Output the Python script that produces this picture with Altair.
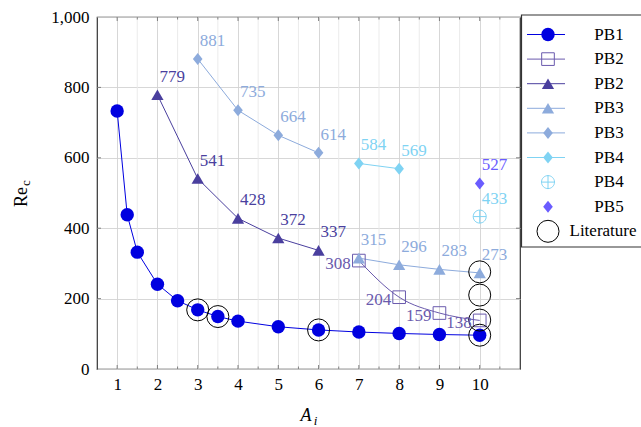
import altair as alt
import pandas as pd

FONT = "'Liberation Serif', 'DejaVu Serif', serif"

# Aspect ratio A_i and critical Reynolds number Re_c for each configuration
pb1_x = [1, 1.25, 1.5, 2, 2.5, 3, 3.5, 4, 5, 6, 7, 8, 9, 10]
pb1_y = [733, 438, 332, 241, 194, 168, 149, 136, 120, 111, 105, 101, 98, 96]

pb2_sq_x = [7, 8, 9, 10]
pb2_sq_y = [308, 204, 159, 138]

pb2_tri_x = [2, 3, 4, 5, 6]
pb2_tri_y = [779, 541, 428, 372, 337]

pb3_tri_x = [7, 8, 9, 10]
pb3_tri_y = [315, 296, 283, 273]

pb3_dia_x = [3, 4, 5, 6]
pb3_dia_y = [881, 735, 664, 614]

pb4_dia_x = [7, 8]
pb4_dia_y = [584, 569]

pb4_plus_x = [10]
pb4_plus_y = [433]

pb5_x = [10]
pb5_y = [527]

lit_x = [3, 3.5, 6, 10, 10, 10, 10]
lit_y = [168, 149, 111, 96, 139, 210, 276]

x_major = list(range(1, 11))
x_minor = [v + 0.5 for v in range(1, 11)]
y_major = [0, 200, 400, 600, 800, 1000]

legend_labels = ["PB1", "PB2", "PB2", "PB3", "PB3", "PB4", "PB4", "PB5", "Literature"]

C_PB1 = "#0000e0"
C_PB2T = "#4a3f9e"
C_PB2S = "#6a5aad"
C_PB3 = "#8dabdc"
C_PB4 = "#7fd3f3"
C_PB5 = "#6a5cff"

DIAMOND = "M0,-1L0.8,0L0,1L-0.8,0Z"
OPLUS = "M-1,0A1,1,0,1,0,1,0A1,1,0,1,0,-1,0ZM-1,0L1,0M0,-1L0,1"

W, H = 423, 352

XS = alt.Scale(domain=[0.5, 11], nice=False, zero=False)
YS = alt.Scale(domain=[0, 1000], nice=False, zero=False)

AX_X = alt.Axis(values=x_major, grid=True, gridColor="#d2d2d2", gridWidth=0.9,
                ticks=False, domain=False, labelFont=FONT, labelFontSize=17,
                labelColor="black", labelPadding=7, title=None)
AX_Y = alt.Axis(values=y_major, grid=True, gridColor="#d2d2d2", gridWidth=0.9,
                ticks=False, domain=False, labelFont=FONT, labelFontSize=17,
                labelColor="black", labelPadding=8, format=",d", title=None)

XENC = alt.X("x:Q", scale=XS, axis=AX_X)
YENC = alt.Y("y:Q", scale=YS, axis=AX_Y)


def base(xs, ys):
    return alt.Chart(pd.DataFrame({"x": xs, "y": ys})).encode(x=XENC, y=YENC)


layers = []

# minor vertical grid at half units
layers.append(
    alt.Chart(pd.DataFrame({"x": x_minor})).mark_rule(color="#e9e9e9", strokeWidth=0.9)
    .encode(x=XENC)
)

# inward ticks on all four sides
tick_color = "#666666"
for vals, length in ((x_major, 4), (x_minor, 2.5)):
    d = pd.DataFrame({"x": vals})
    layers.append(alt.Chart(d).mark_rule(color=tick_color, strokeWidth=0.8)
                  .encode(x=XENC, y=alt.value(H), y2=alt.value(H - length)))
    layers.append(alt.Chart(d).mark_rule(color=tick_color, strokeWidth=0.8)
                  .encode(x=XENC, y=alt.value(0), y2=alt.value(length)))
dy_ticks = pd.DataFrame({"y": y_major[1:-1]})
layers.append(alt.Chart(dy_ticks).mark_rule(color=tick_color, strokeWidth=0.8)
              .encode(y=YENC, x=alt.value(0), x2=alt.value(4)))
layers.append(alt.Chart(dy_ticks).mark_rule(color=tick_color, strokeWidth=0.8)
              .encode(y=YENC, x=alt.value(W), x2=alt.value(W - 4)))

# connecting lines
layers.append(base(pb1_x, pb1_y).mark_line(color=C_PB1, strokeWidth=1))
layers.append(base(pb2_sq_x, pb2_sq_y).mark_line(color=C_PB2S, strokeWidth=1, interpolate="monotone"))
layers.append(base(pb2_tri_x, pb2_tri_y).mark_line(color=C_PB2T, strokeWidth=1))
layers.append(base(pb3_tri_x, pb3_tri_y).mark_line(color=C_PB3, strokeWidth=1))
layers.append(base(pb3_dia_x, pb3_dia_y).mark_line(color=C_PB3, strokeWidth=1))
layers.append(base(pb4_dia_x, pb4_dia_y).mark_line(color=C_PB4, strokeWidth=1))

# markers
layers.append(base(pb1_x, pb1_y).mark_point(shape="circle", size=180, filled=True,
                                            color=C_PB1, opacity=1, strokeWidth=0))
layers.append(base(pb2_sq_x, pb2_sq_y).mark_point(shape="square", size=160, filled=False,
                                                  color=C_PB2S, opacity=1, strokeWidth=1))
layers.append(base(pb2_tri_x, pb2_tri_y).mark_point(shape="triangle-up", size=150, filled=True,
                                                    color=C_PB2T, opacity=1, strokeWidth=0))
layers.append(base(pb3_tri_x, pb3_tri_y).mark_point(shape="triangle-up", size=150, filled=True,
                                                    color=C_PB3, opacity=1, strokeWidth=0))
layers.append(base(pb3_dia_x, pb3_dia_y).mark_point(shape=DIAMOND, size=144, filled=True,
                                                    color=C_PB3, opacity=1, strokeWidth=0))
layers.append(base(pb4_dia_x, pb4_dia_y).mark_point(shape=DIAMOND, size=144, filled=True,
                                                    color=C_PB4, opacity=1, strokeWidth=0))
layers.append(base(pb4_plus_x, pb4_plus_y).mark_point(shape=OPLUS, size=169, filled=False,
                                                      color=C_PB4, opacity=1, strokeWidth=1))
layers.append(base(pb5_x, pb5_y).mark_point(shape=DIAMOND, size=144, filled=True,
                                            color=C_PB5, opacity=1, strokeWidth=0))
layers.append(base(lit_x, lit_y).mark_point(shape="circle", size=484, filled=False,
                                            color="black", opacity=1, strokeWidth=1))


# value labels
def labels(xs, ys, color, side="above"):
    if side == "above":
        mk = dict(align="left", baseline="middle", dx=2, dy=-18)
    else:
        mk = dict(align="right", baseline="middle", dx=-8, dy=3)
    return base(xs, ys).mark_text(font=FONT, fontSize=17, color=color, **mk).encode(
        text=alt.Text("y:Q", format="d"))


layers.append(labels(pb2_sq_x, pb2_sq_y, C_PB2S, side="left"))
layers.append(labels(pb2_tri_x, pb2_tri_y, C_PB2T))
layers.append(labels(pb3_tri_x, pb3_tri_y, C_PB3))
layers.append(labels(pb3_dia_x, pb3_dia_y, C_PB3))
layers.append(labels(pb4_dia_x, pb4_dia_y, C_PB4))
layers.append(labels(pb4_plus_x, pb4_plus_y, C_PB4))
layers.append(labels(pb5_x, pb5_y, C_PB5))

# axis titles: A_i and Re_c with subscripts
one = pd.DataFrame({"k": [0]})
layers.append(alt.Chart(one).mark_text(text="A", font=FONT, fontSize=18, fontStyle="italic",
                                       align="center", baseline="middle")
              .encode(x=alt.value(209), y=alt.value(399)))
layers.append(alt.Chart(one).mark_text(text="i", font=FONT, fontSize=13, fontStyle="italic",
                                       align="center", baseline="middle")
              .encode(x=alt.value(218.5), y=alt.value(404)))
layers.append(alt.Chart(one).mark_text(text="Re", font=FONT, fontSize=18, angle=270,
                                       align="center", baseline="middle")
              .encode(x=alt.value(-75.5), y=alt.value(180)))
layers.append(alt.Chart(one).mark_text(text="c", font=FONT, fontSize=13, angle=270,
                                       align="center", baseline="middle")
              .encode(x=alt.value(-71), y=alt.value(166)))

main = alt.layer(*layers)

# legend panel
leg = pd.DataFrame({
    "row": list(range(9)),
    "label": legend_labels,
    "line": [C_PB1, C_PB2S, C_PB2T, C_PB3, C_PB3, C_PB4, None, None, None],
    "shape": ["circle", "square", "triangle-up", "triangle-up", DIAMOND, DIAMOND, OPLUS, DIAMOND, "circle"],
    "fill": [C_PB1, "transparent", C_PB2T, C_PB3, C_PB3, C_PB4, "transparent", C_PB5, "transparent"],
    "stroke": [C_PB1, C_PB2S, C_PB2T, C_PB3, C_PB3, C_PB4, C_PB4, C_PB5, "black"],
    "sw": [0, 1, 0, 0, 0, 0, 1, 0, 1],
    "size": [180, 160, 150, 150, 144, 144, 169, 144, 484],
    "tx": [512, 512, 512, 512, 512, 512, 512, 512, 506],
})
LY = alt.Y("row:Q", scale=alt.Scale(domain=[0, 8], range=[17.5, 214.3]), axis=None)
LX = alt.X("tx:Q", scale=alt.Scale(domain=[0, W], range=[0, W]), axis=None)

leg_box = alt.Chart(one).mark_rect(fill="white", stroke="#333333", strokeWidth=1.2).encode(
    x=alt.value(424.5), x2=alt.value(600), y=alt.value(-2), y2=alt.value(230))
leg_lines = alt.Chart(leg).transform_filter("datum.line != null").mark_rule(strokeWidth=1).encode(
    y=LY, x=alt.value(430), x2=alt.value(468), color=alt.Color("line:N", scale=None))
leg_marks = alt.Chart(leg).mark_point(opacity=1).encode(
    y=LY, x=alt.value(451),
    shape=alt.Shape("shape:N", scale=None),
    fill=alt.Fill("fill:N", scale=None),
    stroke=alt.Stroke("stroke:N", scale=None),
    strokeWidth=alt.StrokeWidth("sw:Q", scale=None),
    size=alt.Size("size:Q", scale=None))
leg_text = alt.Chart(leg).mark_text(font=FONT, fontSize=17, color="black", align="center",
                                    baseline="middle").encode(
    y=LY, x=LX, text="label:N")

legend = alt.layer(leg_box, leg_lines, leg_marks, leg_text)

chart = alt.layer(main, legend).resolve_scale(y="independent", x="independent").properties(
    width=W, height=H,
    autosize=alt.AutoSizeParams(type="none"),
    padding={"left": 97, "top": 17, "right": 121, "bottom": 58},
).configure_view(stroke="#333333", strokeWidth=1.2)

chart.save("out.html", embed_options={"renderer": "svg", "actions": False})
